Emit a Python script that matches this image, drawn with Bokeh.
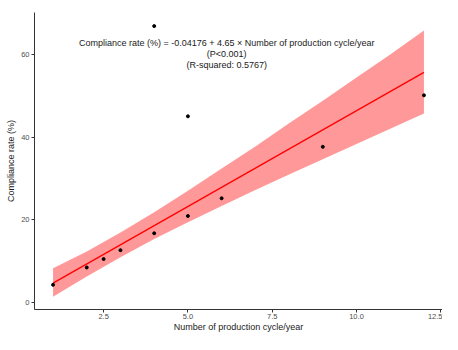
from bokeh.plotting import figure
from bokeh.models import FixedTicker, Range1d
from bokeh.core.properties import value
from bokeh.embed import file_html
from bokeh.resources import INLINE

# observed data
cycles = [1, 2, 2.5, 3, 4, 4, 5, 5, 6, 9, 12]
compliance = [4.2, 8.4, 10.45, 12.6, 16.7, 67.0, 45.1, 20.9, 25.2, 37.7, 50.2]

# fitted model (from annotation)
intercept = -0.04176
slope = 4.65

# confidence band
band_x = [1, 2, 3, 4, 5, 6, 7, 8, 9, 10, 11, 12]
band_lower = [1.3, 6.2, 10.9, 15.3, 19.4, 23.3, 27.2, 31.0, 34.7, 38.4, 42.1, 45.8]
band_upper = [8.2, 12.3, 16.9, 21.8, 27.0, 32.4, 37.8, 43.4, 48.9, 54.5, 60.1, 65.9]

x_ticks = [2.5, 5.0, 7.5, 10.0, 12.5]
x_labels = ["2.5", "5.0", "7.5", "10.0", "12.5"]
y_ticks = [0, 20, 40, 60]
y_labels = ["0", "20", "40", "60"]

annotation = ("Compliance rate (%) = -0.04176 + 4.65 \u00d7 Number of production cycle/year\n"
              "(P<0.001)\n(R-squared: 0.5767)")

FONT = "Liberation Sans"

p = figure(width=442, height=334, output_backend="svg", toolbar_location=None,
           x_range=Range1d(0.45, 12.55), y_range=Range1d(-1.8, 70.3),
           min_border_left=34, min_border_right=0, min_border_top=12, min_border_bottom=0)
p.outline_line_color = None
p.xgrid.visible = False
p.ygrid.visible = False
p.background_fill_color = "white"
p.border_fill_color = "white"

# band
p.varea(x=band_x, y1=band_lower, y2=band_upper, fill_color="#FF0000", fill_alpha=0.4)

# fit line
line_x = [band_x[0], band_x[-1]]
line_y = [intercept + slope * v for v in line_x]
p.line(line_x, line_y, line_color="#FF0000", line_width=1.3)

# points
p.scatter(cycles, compliance, size=3, fill_color="black", line_color="black")

# annotation
p.text(x=[6.15], y=[60.2], text=[annotation], text_align="center", text_baseline="middle",
       text_font=value(FONT), text_font_size="9px", text_color="#1a1a1a", text_line_height=1.1)

for ax in (p.xaxis[0], p.yaxis[0]):
    ax.axis_line_color = "#333333"
    ax.axis_line_width = 1
    ax.major_tick_line_color = "#333333"
    ax.major_tick_out = 3
    ax.major_tick_in = 0
    ax.minor_tick_line_color = None
    ax.major_label_text_font = FONT
    ax.major_label_text_font_size = "7.5px"
    ax.major_label_text_color = "#4D4D4D"
    ax.axis_label_text_font = FONT
    ax.axis_label_text_font_size = "9px"
    ax.axis_label_text_font_style = "normal"
    ax.axis_label_text_color = "#1a1a1a"
    ax.major_label_standoff = 2
    ax.axis_label_standoff = 2

p.xaxis.major_label_standoff = 1
p.xaxis.axis_label_standoff = 0

p.xaxis.ticker = FixedTicker(ticks=x_ticks)
p.xaxis.major_label_overrides = dict(zip(x_ticks, x_labels))
p.yaxis.ticker = FixedTicker(ticks=y_ticks)
p.yaxis.major_label_overrides = dict(zip(y_ticks, y_labels))
p.xaxis.axis_label = "Number of production cycle/year"
p.yaxis.axis_label = "Compliance rate (%)"

open("out.html", "w").write(file_html(p, INLINE))
